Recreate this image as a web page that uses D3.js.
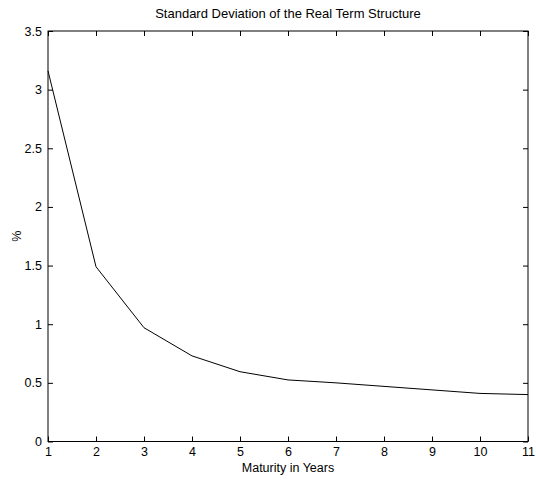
<!DOCTYPE html>
<html>
<head>
<meta charset="utf-8">
<script src="https://cdn.jsdelivr.net/npm/d3@7/dist/d3.min.js"></script>
<style>
  body { margin: 0; background: #fff; }
  svg text { font-family: "Liberation Sans", Arial, sans-serif; font-size: 12.5px; fill: #000; }
</style>
</head>
<body>
<div id="chart"></div>
<script>
// maturity in years and standard deviation (%)
const maturities = [1, 2, 3, 4, 5, 6, 7, 8, 9, 10, 11];
const stdDev = [3.16, 1.49, 0.97, 0.73, 0.595, 0.525, 0.50, 0.47, 0.44, 0.41, 0.40];
const xTicks = [1, 2, 3, 4, 5, 6, 7, 8, 9, 10, 11];
const yTicks = [0, 0.5, 1, 1.5, 2, 2.5, 3, 3.5];

const margin = {top: 31, right: 8, bottom: 39.5, left: 48};
const width = 536 - margin.left - margin.right;
const height = 481 - margin.top - margin.bottom;

const x = d3.scaleLinear().domain([1, 11]).range([0, width]);
const y = d3.scaleLinear().domain([0, 3.5]).range([height, 0]);

const svg = d3.select("#chart").append("svg")
    .attr("width", 536)
    .attr("height", 481)
    .append("g")
    .attr("transform", "translate(" + margin.left + "," + margin.top + ")");

// inward ticks on all four sides
function styleAxis(g) {
    g.select(".domain").remove();
    g.selectAll("line").attr("stroke", "#000");
}

svg.append("g")
    .attr("transform", "translate(0," + height + ")")
    .call(d3.axisBottom(x).tickValues(xTicks).tickSize(-5).tickPadding(6).tickFormat(d3.format("d")))
    .call(styleAxis);

svg.append("g")
    .call(d3.axisTop(x).tickValues(xTicks).tickSize(-5).tickFormat(""))
    .call(styleAxis);

svg.append("g")
    .call(d3.axisLeft(y).tickValues(yTicks).tickSize(-5).tickPadding(6).tickFormat(d => d))
    .call(styleAxis);

svg.append("g")
    .attr("transform", "translate(" + width + ",0)")
    .call(d3.axisRight(y).tickValues(yTicks).tickSize(-5).tickFormat(""))
    .call(styleAxis);

svg.selectAll(".tick text").style("font-size", "12.5px").style("font-family", "'Liberation Sans', Arial, sans-serif");

// frame
svg.append("rect")
    .attr("width", width)
    .attr("height", height)
    .attr("fill", "none")
    .attr("stroke", "#000")
    .attr("stroke-width", 1);

// the curve
const line = d3.line()
    .x((d, i) => x(maturities[i]))
    .y(d => y(d));

svg.append("path")
    .datum(stdDev)
    .attr("fill", "none")
    .attr("stroke", "#000")
    .attr("stroke-width", 1)
    .attr("d", line);

svg.append("text")
    .attr("x", width / 2)
    .attr("y", -13)
    .style("font-size", "13px")
    .style("text-anchor", "middle")
    .text("Standard Deviation of the Real Term Structure");

svg.append("text")
    .attr("x", width / 2)
    .attr("y", height + 30)
    .style("text-anchor", "middle")
    .text("Maturity in Years");

svg.append("text")
    .attr("transform", "rotate(-90)")
    .attr("x", -height / 2)
    .attr("y", -27)
    .style("text-anchor", "middle")
    .text("%");
</script>
</body>
</html>
